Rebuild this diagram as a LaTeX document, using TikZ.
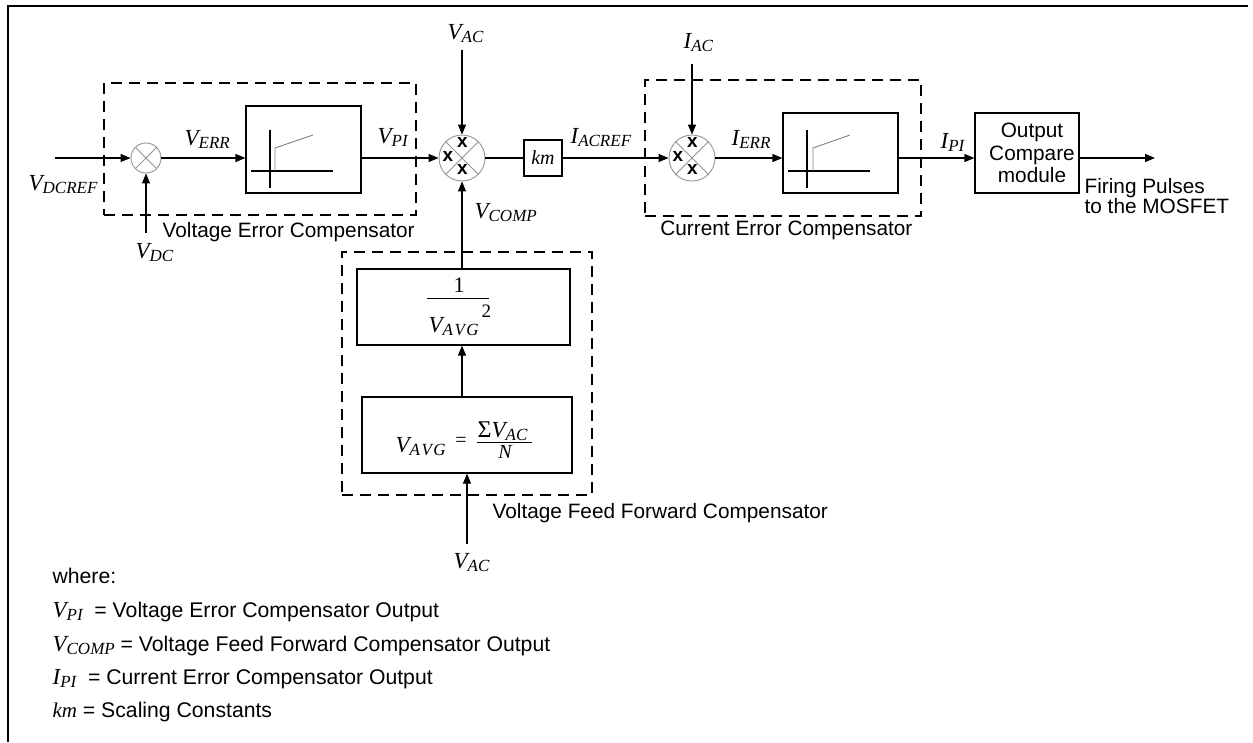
\documentclass[tikz,border=0pt]{standalone}
\usepackage{fontspec}
\setmainfont{Liberation Sans}
\newfontfamily\tms{Liberation Serif}
\usetikzlibrary{arrows.meta}
\newcommand{\vlab}[2]{{\tms\itshape\fontsize{23}{25}\selectfont #1\raisebox{-3.5pt}{\fontsize{17}{19}\selectfont #2}}}
\newcommand{\avgsub}{A\kern1.5pt V\kern1.5pt G}
\newcommand{\sfont}{\fontsize{20.8}{22.5}\selectfont}
\newcommand{\lgfont}{\fontsize{21.2}{23}\selectfont}
\begin{document}
\begin{tikzpicture}[x=1pt,y=-1pt,
  line width=1.2pt,
  arr/.style={-{Triangle[length=10pt,width=8pt]}},
  blk/.style={draw, line width=1.2pt, inner sep=0pt},
  dbox/.style={draw, dash pattern=on 11pt off 7pt, line width=1.1pt, inner sep=0pt},
  lab/.style={anchor=base west, inner sep=0pt},
  txt/.style={inner sep=0pt, font=\sfont},
  lgd/.style={inner sep=0pt, font=\lgfont, anchor=base west},
  mult/.style={circle, draw=gray!85, line width=0.9pt, inner sep=0pt, minimum size=46pt},
  sumc/.style={circle, draw=gray!85, line width=0.9pt, inner sep=0pt, minimum size=30pt},
  xmark/.style={inner sep=0pt, font=\bfseries\fontsize{19}{19}\selectfont},
  cross/.style={draw=gray!85, line width=0.8pt},
  axisln/.style={line width=1.1pt},
  stepln/.style={draw=gray, line width=0.9pt},
  fbar/.style={line width=0.8pt}
]
\useasboundingbox (0,0) rectangle (1253,742);

% frame
\draw[line width=1.5pt] (8,742) -- (8,6) -- (1248,6);

% dashed groups
\node[dbox, minimum width=312pt, minimum height=132pt] (d1) at (260,149) {};
\node[dbox, minimum width=276pt, minimum height=136pt] (d2) at (783,148) {};
\node[dbox, minimum width=250pt, minimum height=243pt] (d3) at (467,373.5) {};

% summing junction
\node[sumc] (s1) at (146,158) {};
\draw[cross] (s1.north west) -- (s1.south east) (s1.north east) -- (s1.south west);

% PI block 1
\node[blk, minimum width=115pt, minimum height=87pt] (pi1) at (303.5,149.5) {};
\draw[axisln] (270,130) -- (270,188) (251,171) -- (333,171);
\draw[stepln] (275,171) -- (275,148) -- (313,135);

% multiplier 1
\node[mult] (m1) at (462,158) {};
\draw[cross] (m1.north west) -- (m1.south east) (m1.north east) -- (m1.south west);
\node[xmark] (m1t) at (462.5,142.5) {x};
\node[xmark] (m1l) at (448,156) {x};
\node[xmark] (m1b) at (462.5,169) {x};

% km
\node[blk, minimum width=38pt, minimum height=36pt] (km) at (543,158) {\tms\itshape\fontsize{20}{22}\selectfont km};

% multiplier 2
\node[mult] (m2) at (692,158) {};
\draw[cross] (m2.north west) -- (m2.south east) (m2.north east) -- (m2.south west);
\node[xmark] (m2t) at (692.5,142.5) {x};
\node[xmark] (m2l) at (678,156) {x};
\node[xmark] (m2b) at (692.5,169) {x};

% PI block 2
\node[blk, minimum width=115pt, minimum height=80pt] (pi2) at (840.5,153) {};
\draw[axisln] (807,130) -- (807,188) (788,171) -- (870,171);
\draw[stepln] (813,171) -- (813,148) -- (850,135);

% output compare
\node[blk, minimum width=104pt, minimum height=80pt] (oc) at (1027,153) {};
\node[txt, align=center] (toc) at (1032,153) {Output\\Compare\\module};

% feed forward blocks
\node[blk, minimum width=213pt, minimum height=76pt] (ub) at (463.5,307) {};
\node[blk, minimum width=210pt, minimum height=76pt] (lb) at (467,435) {};

% connectors
\coordinate (vin) at (55,158);
\coordinate (vdc) at (146,233);
\coordinate (vact) at (462,50);
\coordinate (iact) at (692,64);
\coordinate (fire) at (1155,158);
\coordinate (vacb) at (467,544);
\draw[arr] (vin) -- (s1.west);
\draw[arr] (vdc) -- (s1.south);
\draw[arr] (s1.east) -- (s1.east -| pi1.west);
\draw[arr] (s1.east -| pi1.east) -- (m1.west);
\draw (m1.east) -- (km.west);
\draw[arr] (km.east) -- (m2.west);
\draw[arr] (m2.east) -- (m2.east -| pi2.west);
\draw[arr] (m2.east -| pi2.east) -- (m2.east -| oc.west);
\draw[arr] (m2.east -| oc.east) -- (fire);
\draw[arr] (vact) -- (m1.north);
\draw[arr] (iact) -- (m2.north);
\draw[arr] (ub.north -| m1.south) -- (m1.south);
\draw[arr] (lb.north -| m1.south) -- (ub.south -| m1.south);
\draw[arr] (vacb) -- (vacb |- lb.south);

% signal labels
\node[lab] (lvdcref) at (28,190) {\vlab{V}{DCREF}};
\node[lab] (lverr) at (184,145) {\vlab{V}{ERR}};
\node[lab] (lvpi) at (377,143) {\vlab{V}{PI}};
\node[lab] (lvdc) at (135,258) {\vlab{V}{DC}};
\node[lab] (lvac) at (447,39) {\vlab{V}{AC}};
\node[lab] (lvcomp) at (474,218) {\vlab{V}{COMP}};
\node[lab] (liacref) at (570,143) {\vlab{I}{ACREF}};
\node[lab] (liac) at (683,48) {\vlab{I}{AC}};
\node[lab] (lierr) at (731,145) {\vlab{I}{ERR}};
\node[lab] (lipi) at (940,148) {\vlab{I}{PI}};
\node[lab] (lvacb) at (453,568) {\vlab{V}{AC}};

% formulas
\node[lab] (one) at (453,292) {\tms\fontsize{22}{24}\selectfont 1};
\draw[fbar] (427,298) -- (489,298);
\node[lab] (vavg1) at (428,332) {\vlab{V}{\avgsub}};
\node[lab] (sq) at (481,317) {\tms\fontsize{19}{21}\selectfont 2};
\node[lab] (vavg2) at (395,452) {\vlab{V}{\avgsub}};
\node[inner sep=0pt] (eq) at (461,442) {\tms\fontsize{20}{22}\selectfont =};
\node[lab] (sig) at (477,437) {{\tms\fontsize{24}{26}\selectfont Σ}\vlab{V}{AC}};
\draw[fbar] (477,442) -- (532,442);
\node[anchor=base, inner sep=0pt] (nn) at (505,458) {\tms\itshape\fontsize{20}{22}\selectfont N};

% group captions
\node[txt, anchor=base west] (tvec) at (162,237) {Voltage Error Compensator};
\node[txt, anchor=base east] (tcec) at (913,235) {Current Error Compensator};
\node[txt, anchor=base west] (tvff) at (492,518) {Voltage Feed Forward Compensator};
\node[inner sep=0pt, font=\fontsize{20.8}{20}\selectfont, align=left, anchor=west] (tfire) at (1084,196) {Firing Pulses\\to the MOSFET};

% legend
\node[lgd] (lw) at (52,583) {where:};
\node[lgd] (l1) at (52,617) {\vlab{V}{PI}\ \ = Voltage Error Compensator Output};
\node[lgd] (l2) at (52,651) {\vlab{V}{COMP} = Voltage Feed Forward Compensator Output};
\node[lgd] (l3) at (52,684) {\vlab{I}{PI}\ \ = Current Error Compensator Output};
\node[lgd] (l4) at (52,717) {{\tms\itshape\fontsize{21}{23}\selectfont km} = Scaling Constants};
\end{tikzpicture}
\end{document}
